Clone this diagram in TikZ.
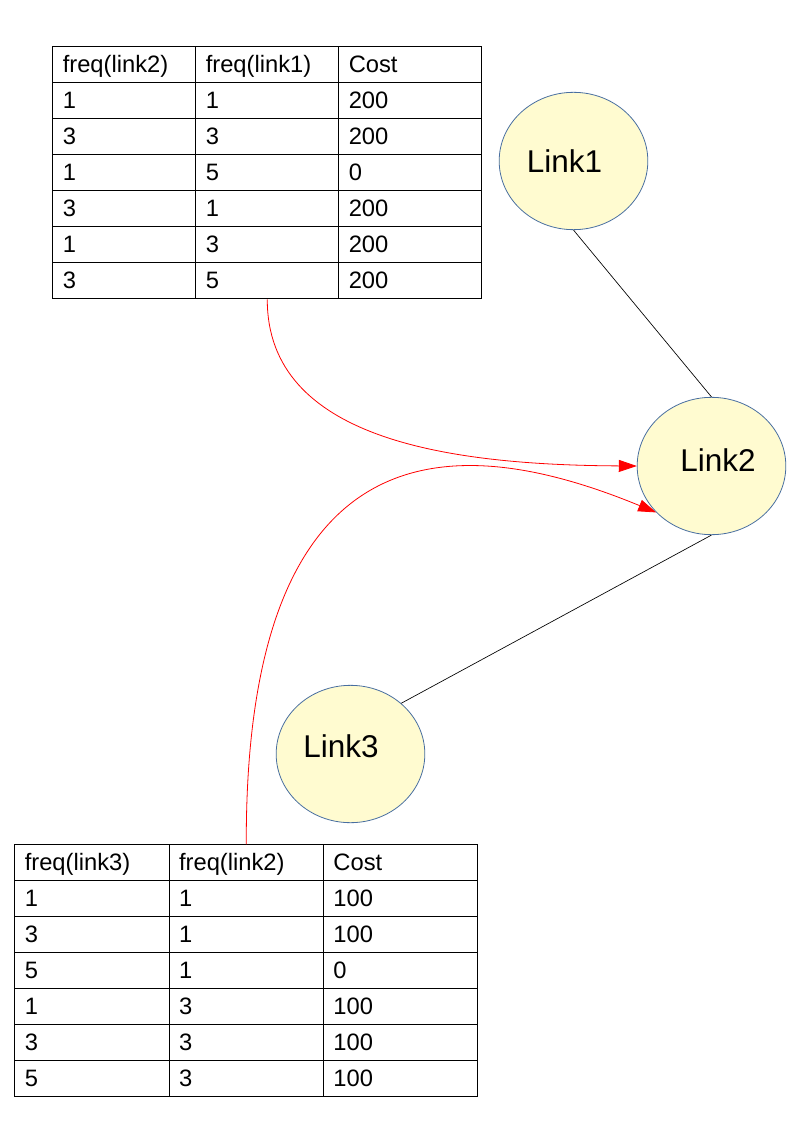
\documentclass[tikz,border=0pt]{standalone}
\usepackage{fontspec}
\setmainfont{Liberation Sans}
\usepackage{tikz}
\usetikzlibrary{
    arrows.meta,
    positioning,
    shapes.geometric,
    matrix
}

\definecolor{linkfill}{RGB}{255,251,208}
\definecolor{linkdraw}{RGB}{72,110,160}

\begin{document}
\begin{tikzpicture}[
        x=0.75pt, y=-0.75pt,
        link/.style={ellipse, draw=linkdraw, line width=0.6pt, fill=linkfill,
                     minimum width=111.5pt, minimum height=103pt, inner sep=0pt,
                     font=\fontsize{23.6}{26}\selectfont},
        cell/.style={draw=black, line width=0.75pt, minimum height=27pt,
                     inner xsep=7.5pt, inner ysep=0pt, text height=16pt,
                     text depth=4pt, align=left, anchor=center,
                     font=\fontsize{17.8}{20}\selectfont},
        cellA/.style={cell, text width=92.25pt},
        cellB/.style={cell, text width=100.75pt},
        table/.style={matrix of nodes, inner sep=0pt, anchor=north west,
                      column sep=-0.75pt, row sep=-0.75pt},
        edge/.style={draw=black, line width=0.5pt},
        pass/.style={-{Triangle[length=13.5pt, width=9pt]}, draw=red,
                     line width=0.6pt},
    ]
    \useasboundingbox (0,0) rectangle (794,1123);

    % Cost tables
    \matrix (costA) [table, nodes={cellA}] at (52,46) {
        freq(link2) & freq(link1) & Cost \\
        1 & 1 & 200 \\
        3 & 3 & 200 \\
        1 & 5 & 0 \\
        3 & 1 & 200 \\
        1 & 3 & 200 \\
        3 & 5 & 200 \\
    };
    \matrix (costB) [table, nodes={cellB}] at (14,844) {
        freq(link3) & freq(link2) & Cost \\
        1 & 1 & 100 \\
        3 & 1 & 100 \\
        5 & 1 & 0 \\
        1 & 3 & 100 \\
        3 & 3 & 100 \\
        5 & 3 & 100 \\
    };

    % Links
    \node[link] (link1) at (573.5,161) {Link1\hspace*{13.5pt}};
    \node[link] (link2) at (711.5,466) {\hspace*{9.75pt}\raisebox{9pt}{Link2}};
    \node[link] (link3) at (350.5,754) {\raisebox{12pt}{Link3}\hspace*{14.25pt}};

    % Edges
    \draw[edge] (link1.south) -- (link2.north);
    \draw[edge] (link2.south) -- (link3.45);

    % Tables passed to Link2
    \draw[pass] (costA-7-2.south) .. controls (267,440) and (450,465) .. (link2.west);
    \draw[pass] (costB-1-2.north) .. controls (245,400) and (480,440) .. (link2.220);

\end{tikzpicture}
\end{document}
